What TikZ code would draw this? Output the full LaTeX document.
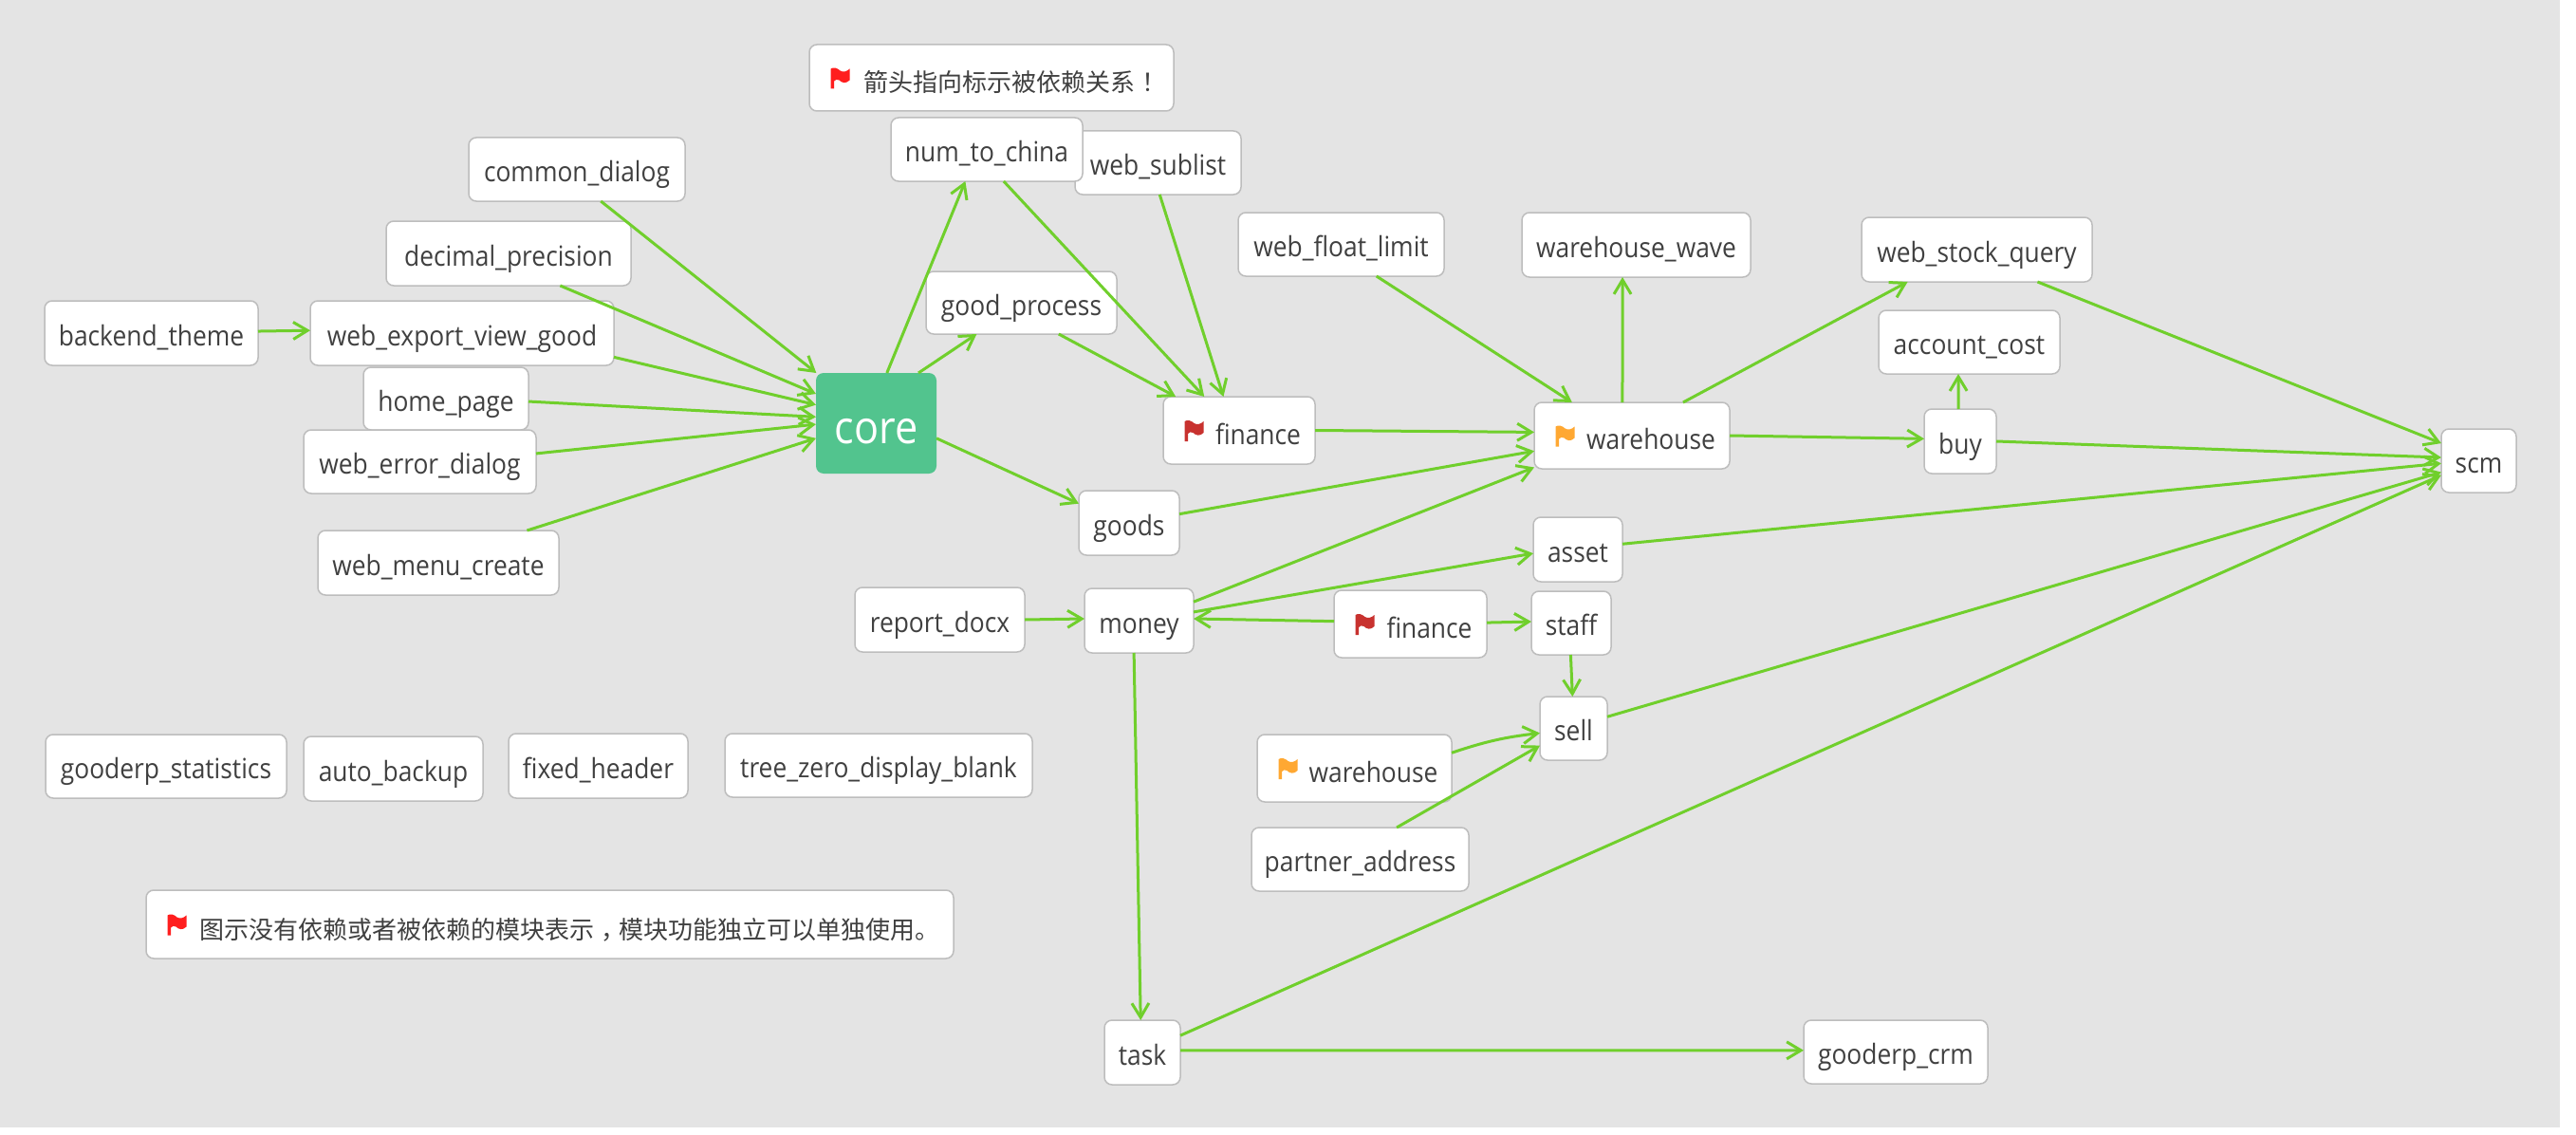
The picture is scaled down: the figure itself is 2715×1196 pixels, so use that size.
\documentclass[tikz,border=0pt]{standalone}
\usepackage{fontspec}
\setmainfont[FakeStretch=0.9]{Open Sans}
\newfontfamily\cjkfont{Noto Sans CJK SC}
\usepackage{xcolor}
\usepackage{tikz}
\usetikzlibrary{arrows.meta}
\definecolor{canvas}{HTML}{E4E4E4}
\definecolor{edgeline}{HTML}{BDBDBD}
\definecolor{inktext}{HTML}{404040}
\definecolor{linkgreen}{HTML}{70CF2C}
\definecolor{coregreen}{HTML}{52C48E}
\definecolor{flagred}{HTML}{FF1E1E}
\definecolor{flagdark}{HTML}{C8322F}
\definecolor{flagamber}{HTML}{FFA832}

\begin{document}
\begin{tikzpicture}[x=1pt,y=-1pt,
    modbox/.style={draw=edgeline,line width=1.5pt,fill=white,rounded corners=8pt,inner sep=0pt,outer sep=0pt,
      text=inktext,font=\fontsize{29.3}{30}\selectfont,text height=26pt,text depth=0pt},
    flagbox/.style={modbox,text height=29pt},
    notebox/.style={modbox,font=\fontsize{26}{30}\cjkfont,text height=30pt},
    corebox/.style={fill=coregreen,rounded corners=8pt,inner sep=0pt,outer sep=0pt,
      text=white,font=\fontsize{48}{50}\selectfont,text height=42pt,text depth=0pt},
    dep/.style={draw=linkgreen,line width=3pt,-{Straight Barb[length=15pt,width=18pt]}},
    flagmark/.pic={
      \fill[pic actions] (0,1) .. controls (3,-1) and (7,0) .. (10,3) .. controls (13,5) and (17,4) .. (20,1)
        -- (20,13) .. controls (16,17) and (12,16) .. (9,13) .. controls (7,12) and (5,12) .. (3.5,14)
        -- (3.5,22) -- (0,22) -- cycle;
    }]
  \useasboundingbox (0,0) rectangle (2715,1196);
  \fill[canvas] (0,0) rectangle (2698,1188);
  % left column
  \node[modbox,minimum width=225,minimum height=68] (backend) at (159.5,351) {backend\_theme};
  \node[modbox,minimum width=320,minimum height=68] (export) at (487,351) {web\_export\_view\_good};
  \node[modbox,minimum width=174,minimum height=66] (home) at (470,420) {home\_page};
  \node[modbox,minimum width=245,minimum height=67] (errdlg) at (442.5,486.5) {web\_error\_dialog};
  \node[modbox,minimum width=254,minimum height=68] (menu) at (462,593) {web\_menu\_create};
  \node[modbox,minimum width=258,minimum height=68] (decimal) at (536,267) {decimal\_precision};
  \node[modbox,minimum width=228,minimum height=67] (common) at (608,178.5) {common\_dialog};
  % core and its neighbours
  \node[corebox,minimum width=127,minimum height=106] (core) at (923.5,446) {core};
  \node[notebox,minimum width=384,minimum height=70] (hint) at (1045,82) {\hspace*{42pt}箭头指向标示被依赖关系\kern8pt！\kern-8pt};
  \node[modbox,minimum width=175,minimum height=67] (sublist) at (1220.5,171.5) {web\_sublist};
  \node[modbox,minimum width=202,minimum height=67] (numchina) at (1040,157.5) {num\_to\_china};
  \node[modbox,minimum width=201,minimum height=66] (goodproc) at (1076.5,319) {good\_process};
  \node[flagbox,minimum width=160,minimum height=71] (finA) at (1306,453.5) {\hspace*{40pt}finance};
  \node[modbox,minimum width=106,minimum height=68] (goods) at (1190,551) {goods};
  \node[modbox,minimum width=179,minimum height=68] (report) at (990.5,653) {report\_docx};
  \node[modbox,minimum width=115,minimum height=68] (money) at (1200.5,654) {money};
  \node[flagbox,minimum width=161,minimum height=71] (finB) at (1486.5,657.5) {\hspace*{40pt}finance};
  % right part
  \node[modbox,minimum width=84,minimum height=67] (staff) at (1656,656.5) {staff};
  \node[modbox,minimum width=94,minimum height=68] (asset) at (1663,579) {asset};
  \node[modbox,minimum width=71,minimum height=67] (sell) at (1658.5,767.5) {sell};
  \node[flagbox,minimum width=205,minimum height=71] (wareB) at (1427.5,809.5) {\hspace*{40pt}warehouse};
  \node[modbox,minimum width=229,minimum height=67] (partner) at (1433.5,905.5) {partner\_address};
  \node[modbox,minimum width=217,minimum height=67] (floatlim) at (1413.5,257.5) {web\_float\_limit};
  \node[modbox,minimum width=241,minimum height=68] (wave) at (1724.5,258) {warehouse\_wave};
  \node[flagbox,minimum width=206,minimum height=70] (wareA) at (1720,459) {\hspace*{40pt}warehouse};
  \node[modbox,minimum width=243,minimum height=68] (stock) at (2083.5,263) {web\_stock\_query};
  \node[modbox,minimum width=191,minimum height=67] (account) at (2075.5,360.5) {account\_cost};
  \node[modbox,minimum width=76,minimum height=68] (buy) at (2066,465) {buy};
  \node[modbox,minimum width=79,minimum height=67] (scm) at (2612.5,485.5) {scm};
  % no dependencies
  \node[modbox,minimum width=254,minimum height=67] (stats) at (175,807.5) {gooderp\_statistics};
  \node[modbox,minimum width=189,minimum height=68] (backup) at (414.5,810) {auto\_backup};
  \node[modbox,minimum width=189,minimum height=68] (fixedhead) at (630.5,807) {fixed\_header};
  \node[modbox,minimum width=324,minimum height=67] (blank) at (926,806.5) {tree\_zero\_display\_blank};
  \node[notebox,minimum width=851,minimum height=72] (legend) at (579.5,974) {\hspace*{41pt}图示没有依赖或者被依赖的模块表示\kern8pt，\kern-8pt模块功能独立可以单独使用。};
  \node[modbox,minimum width=80,minimum height=68] (task) at (1204,1109) {task};
  \node[modbox,minimum width=194,minimum height=67] (crm) at (1998,1108.5) {gooderp\_crm};
  % flags
  \foreach \mod/\tone in {hint/flagred,legend/flagred,finA/flagdark,finB/flagdark,wareA/flagamber,wareB/flagamber}{
      \pic[fill=\tone] at ([xshift=22.5,yshift=10.5]\mod.west) {flagmark};
    }
  % into core
  \draw[dep] (backend.1) -- (export.179);
  \draw[dep] (common.-53.8) -- (core.140.2);
  \draw[dep] (decimal.-32) -- (core.154.3);
  \draw[dep] (export.-9.8) -- (core.163.3);
  \draw[dep] (home.-2) -- (core.174.6);
  \draw[dep] (errdlg.4.4) -- (core.181.8);
  \draw[dep] (menu.20.9) -- (core.194.1);
  % out of core
  \draw[dep] (core.78.8) -- (numchina.-124);
  \draw[dep] (core.50) -- (goodproc.-145);
  \draw[dep] (core.-14.8) -- (goods.159);
  % into finance
  \draw[dep] (goodproc.-40) -- (finA.152.4);
  \draw[dep] (numchina.-62.4) -- (finA.136);
  \draw[dep] (sublist.-87.6) -- (finA.115);
  % around warehouse
  \draw[dep] (finA.0) -- (wareA.178.9);
  \draw[dep] (goods.10.3) -- (wareA.-171.2);
  \draw[dep] (money.19.4) -- (wareA.-162);
  \draw[dep] (floatlim.-42) -- (wareA.151);
  \draw[dep] (wareA.106.6) -- (wave.-113.9);
  \draw[dep] (wareA.33.9) -- (stock.-155.2);
  \draw[dep] (wareA.-0.5) -- (buy.176.9);
  \draw[dep] (buy.93.3) -- (account.-109);
  % into scm
  \draw[dep] (buy.0) -- (scm.175);
  \draw[dep] (stock.-28) -- (scm.155);
  \draw[dep] (asset.7) -- (scm.-176.4);
  \draw[dep] (sell.19.3) -- (scm.-163.8);
  \draw[dep] (task.24.3) -- (scm.-159.8);
  % lower middle
  \draw[dep] (money.9.5) -- (asset.-175);
  \draw[dep] (finB.178.2) -- (money.2);
  \draw[dep] (finB.1) -- (staff.178);
  \draw[dep] (staff.-91.7) -- (sell.92.5);
  \draw[dep] (wareB.9.4) to[bend left=6] (sell.-172.8);
  \draw[dep] (partner.41) -- (sell.-153.8);
  \draw[dep] (report.0.6) -- (money.178);
  \draw[dep] (money.-99.2) -- (task.93.4);
  \draw[dep] (task.3) -- (crm.179);
\end{tikzpicture}
\end{document}
